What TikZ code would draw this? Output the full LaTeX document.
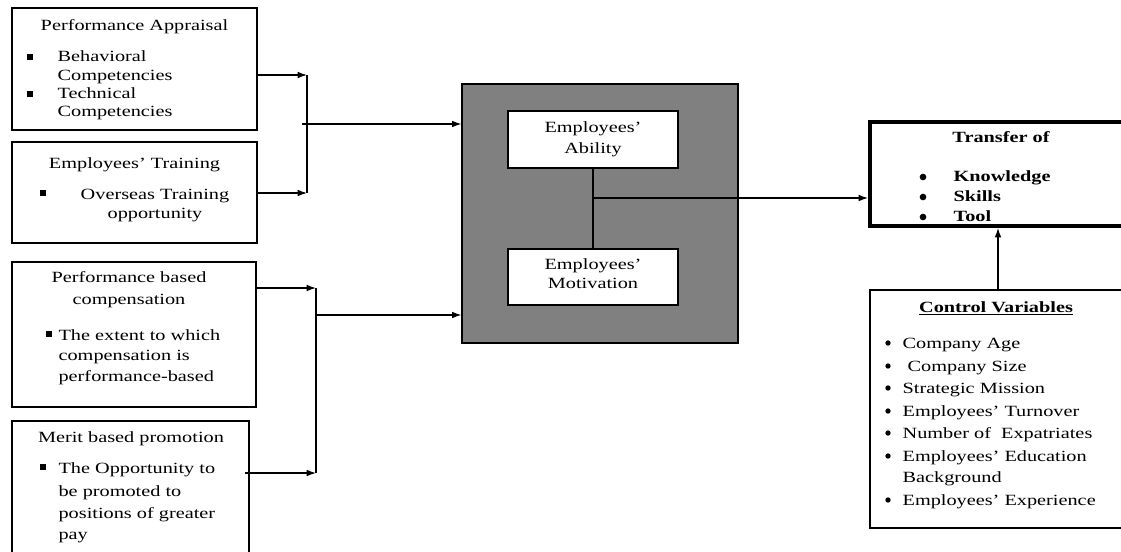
\documentclass[tikz,border=0pt]{standalone}
\usepackage{fontspec}
\setmainfont{Liberation Serif}[FakeStretch=1.3]
\usetikzlibrary{arrows.meta,fit}

\tikzset{
    box/.style={draw, inner sep=0pt},
    txt/.style={inner sep=0pt, font=\fontsize{11.7}{14}\selectfont},
    sq/.style={fill, inner sep=0pt, minimum size=4pt},
    dot/.style={circle, fill, inner sep=0pt, minimum size=#1},
    arr/.style={-{Latex[length=7pt,width=5pt]}},
}

\begin{document}
\begin{tikzpicture}[x=0.75pt,y=-0.75pt,line width=0.9pt]
    \useasboundingbox (0,0) rectangle (1121,551);

    % left boxes
    \node[box, fit={(12,8) (257,130)}] (appr) {};
    \node[box, fit={(12,142) (257,243)}] (train) {};
    \node[box, fit={(12,262) (256,407)}] (comp) {};
    \node[box, fit={(12,421) (249,560)}] (merit) {};

    \node[txt, anchor=mid] (appr-h) at (134.5,27) {Performance Appraisal};
    \foreach \y/\t [count=\i] in {58/Behavioral,77/Competencies,95/Technical,113/Competencies}{
        \node[txt, anchor=mid west] (appr-l\i) at (57,\y) {\t};
    }
    \foreach \y [count=\i] in {58,95}{
        \node[sq] (appr-b\i) at (30,\y-1) {};
    }

    \node[txt, anchor=mid] (train-h) at (134.5,165) {Employees’ Training};
    \node[sq] (train-b1) at (43,193) {};
    \node[txt, anchor=mid] (train-l1) at (155,196) {Overseas Training};
    \node[txt, anchor=mid] (train-l2) at (155,215) {opportunity};

    \node[txt, anchor=mid] (comp-h1) at (129,279) {Performance based};
    \node[txt, anchor=mid] (comp-h2) at (129,301) {compensation};
    \node[sq] (comp-b1) at (49,334) {};
    \foreach \y/\t [count=\i] in {337/The extent to which,357/compensation is,378/performance-based}{
        \node[txt, anchor=mid west] (comp-l\i) at (58,\y) {\t};
    }

    \node[txt, anchor=mid] (merit-h) at (131,439) {Merit based promotion};
    \node[sq] (merit-b1) at (43,467) {};
    \foreach \y/\t [count=\i] in {470/The Opportunity to,493/be promoted to,515/positions of greater,536/pay}{
        \node[txt, anchor=mid west] (merit-l\i) at (58,\y) {\t};
    }

    % middle block
    \node[box, fill=black!50, fit={(462,84) (738,343)}] (core) {};
    \node[box, fill=white, fit={(508,111) (678,168)}] (abil) {};
    \node[box, fill=white, fit={(508,249) (678,305)}] (motiv) {};
    \node[txt, anchor=mid] (abil-l1) at (593,129) {Employees’};
    \node[txt, anchor=mid] (abil-l2) at (593,150) {Ability};
    \node[txt, anchor=mid] (motiv-l1) at (593,266) {Employees’};
    \node[txt, anchor=mid] (motiv-l2) at (593,285) {Motivation};

    % right boxes
    \node[box, line width=3pt, fit={(870,122) (1130,226)}] (trans) {};
    \node[txt, anchor=mid, font=\fontsize{11.7}{14}\selectfont\bfseries] (trans-h) at (1001,139) {Transfer of};
    \foreach \y/\t [count=\i] in {178/Knowledge,198/Skills,218/Tool}{
        \node[dot=5pt] (trans-b\i) at (923,\y-1) {};
        \node[txt, anchor=mid west, font=\fontsize{11.7}{14}\selectfont\bfseries] (trans-l\i) at (953,\y) {\t};
    }

    \node[box, fit={(870,290) (1130,528)}] (ctrl) {};
    \node[txt, anchor=mid] (ctrl-h) at (996,309) {\underline{\textbf{Control Variables}}};
    \foreach \y/\t [count=\i] in {345/Company Age,368/\ Company Size,390/Strategic Mission,413/Employees’ Turnover,435/Number of\ \ Expatriates,458/Employees’ Education,502/Employees’ Experience}{
        \node[dot=4pt] (ctrl-b\i) at (888,\y-2) {};
        \node[txt, anchor=mid west] (ctrl-l\i) at (902,\y) {\t};
    }
    \node[txt, anchor=mid west] (ctrl-l8) at (902,479) {Background};

    % junctions
    \coordinate (ja) at (307,75);
    \coordinate (jb) at (307,193);
    \coordinate (jab) at (302,124);
    \coordinate (jc) at (316,288);
    \coordinate (jd) at (316,473);
    \coordinate (jcd) at (316,315);
    \coordinate (md) at (245,473);
    \coordinate (jm) at (593,198);
    \coordinate (up) at (998,0);

    \draw[arr] (appr.east |- ja) -- (ja);
    \draw[arr] (train.east |- jb) -- (jb);
    \draw (ja) -- (jb);
    \draw[arr] (jab) -- (core.west |- jab);

    \draw[arr] (comp.east |- jc) -- (jc);
    \draw[arr] (md) -- (jd);
    \draw (jc) -- (jd);
    \draw[arr] (jcd) -- (core.west |- jcd);

    \draw (abil.south) -- (motiv.north);
    \draw[arr] (jm) -- (trans.west |- jm);
    \draw[arr] (ctrl.north -| up) -- (trans.south -| up);

\end{tikzpicture}
\end{document}
